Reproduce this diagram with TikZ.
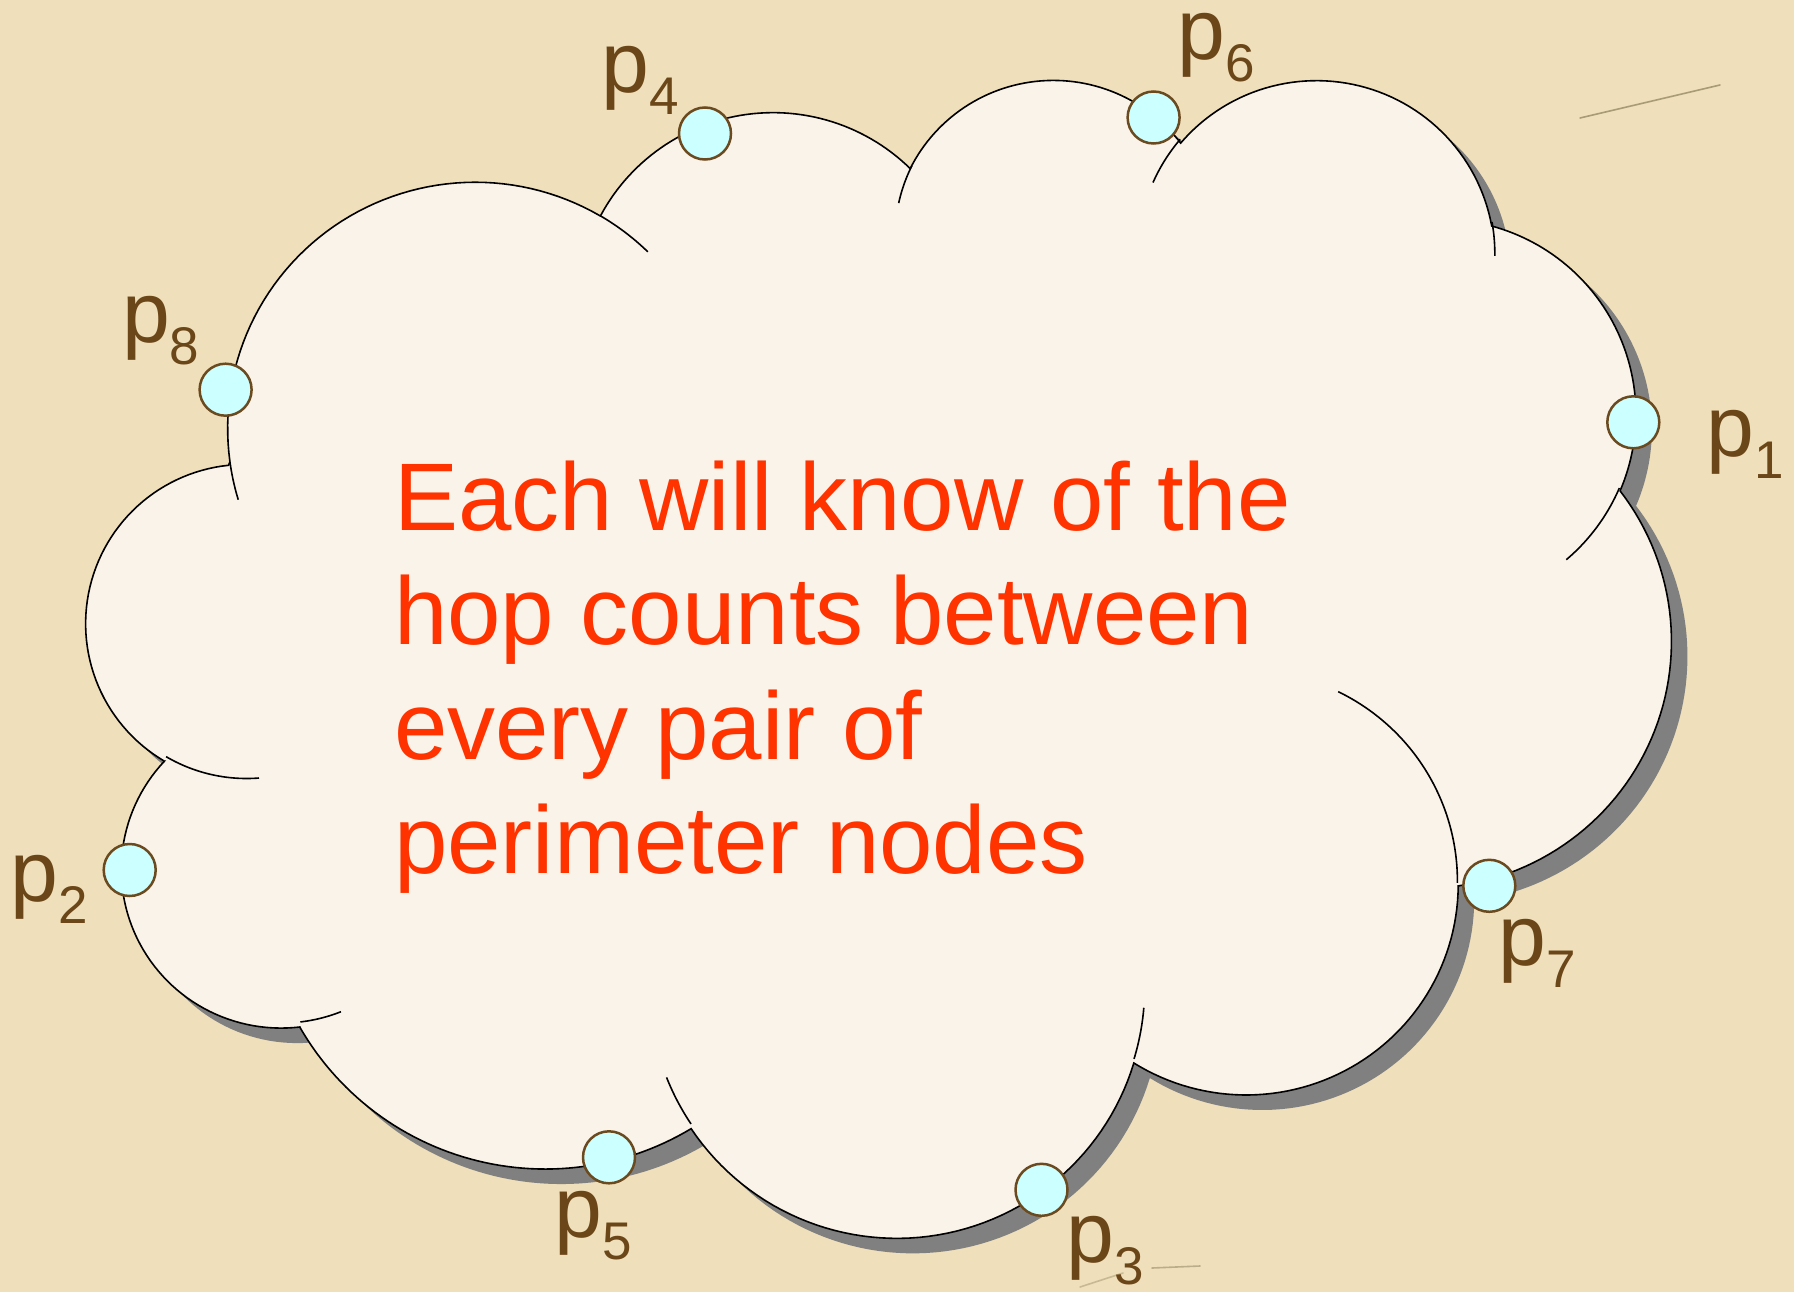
\documentclass[tikz,border=0pt]{standalone}
\usepackage{fontspec}
\setmainfont{Liberation Sans}
\definecolor{bgc}{HTML}{EFDFBA}
\definecolor{cloudc}{HTML}{FAF3E9}
\definecolor{shadowc}{HTML}{808080}
\definecolor{redc}{HTML}{FF3300}
\definecolor{labc}{HTML}{6B4619}
\definecolor{circc}{HTML}{6B4A1F}
\definecolor{cyanc}{HTML}{CCFFFF}
\definecolor{fiberc}{HTML}{6E6440}
\newcommand\cloudreset[2]{\xdef\cpx{#1}\xdef\cpy{#2}\gdef\cloudacc{}}
\newcommand\cloudarc[4]{%
  \pgfmathsetmacro\cta{atan2((#1)*sin(#3),(#2)*cos(#3))}%
  \pgfmathsetmacro\ctb{atan2((#1)*sin((#3)+(#4)),(#2)*cos((#3)+(#4)))}%
  \pgfmathsetmacro\ctb{(\ctb<\cta) ? (\ctb+360) : \ctb}%
  \pgfmathsetmacro\ccx{\cpx-(#1)*cos(\cta)}%
  \pgfmathsetmacro\ccy{\cpy-(#2)*sin(\cta)}%
  \pgfmathsetmacro\cnx{\ccx+(#1)*cos(\ctb)}%
  \pgfmathsetmacro\cny{\ccy+(#2)*sin(\ctb)}%
  \xdef\cloudacc{\unexpanded\expandafter{\cloudacc} -- plot[domain=\cta:\ctb,samples=60] ({\ccx+#1*cos(\noexpand\x)},{\ccy+#2*sin(\noexpand\x)})}%
  \xdef\cpx{\cnx}\xdef\cpy{\cny}%
}
\newcommand\psub[1]{\raisebox{-22pt}{\fontsize{53}{53}\selectfont #1}}
\begin{document}
\begin{tikzpicture}[x=1pt,y=-1pt,
  cloudline/.style={draw=black,line width=1.6pt},
  pnode/.style={circle,draw=circc,fill=cyanc,line width=2.5pt,minimum size=52pt,inner sep=0pt},
  plabel/.style={text=labc,inner sep=0pt,anchor=base west,text height=46pt,text depth=21pt,font=\fontsize{86}{86}\selectfont},
  bodytext/.style={text=redc,inner sep=0pt,anchor=base west,font=\fontsize{96}{115}\selectfont},
  fiber/.style={draw=fiberc,line width=1.6pt,opacity=0.55,line cap=round}]
\useasboundingbox (0,0) rectangle (1794,1292);
\fill[bgc] (0,0) rectangle (1794,1292);
% dark fibres of the paper texture
\coordinate (f1a) at (1580,118); \coordinate (f1b) at (1720,85);
\draw[fiber] (f1a) -- (f1b);
\coordinate (f2a) at (1152,1268); \coordinate (f2b) at (1200,1266);
\draw[fiber,opacity=0.4] (f2a) -- (f2b);
\coordinate (f3a) at (1080,1287); \coordinate (f3b) at (1123,1273);
\draw[fiber,opacity=0.3] (f3a) -- (f3b);
% main outline of the cloud
\cloudreset{390.0}{1437.0}
\cloudarc{675.3}{919.0}{-190.48748}{123.78053}
\cloudarc{533.3}{726.7}{-144.10238}{89.94523}
\cloudarc{436.5}{594.5}{-145.80792}{99.72302}
\cloudarc{485.7}{659.5}{-130.98607}{117.24173}
\cloudarc{533.3}{727.3}{-78.70888}{109.02692}
\cloudarc{677.5}{922.0}{-46.26725}{130.269}
\cloudarc{578.5}{786.7}{0.62502}{114.03333}
\cloudarc{675.2}{921.5}{22.4516}{115.17255}
\cloudarc{772.0}{1054.3}{66.24263}{75.71102}
\cloudarc{436.0}{591.8}{-274.94208}{146.73557}
\cloudarc{434.5}{594.5}{-246.8285}{152.51885}
\let\cloudmain\cloudacc
\begin{scope}[shift={(102.94,91.62)},xscale=0.36663,yscale=0.26794]
  \fill[shadowc] (390.0,1437.0) \cloudmain -- cycle;
\end{scope}
\begin{scope}[shift={(86.94,76.62)},xscale=0.36663,yscale=0.26794]
  \fill[cloudc] (390.0,1437.0) \cloudmain -- cycle;
  \draw[cloudline] (390.0,1437.0) \cloudmain -- cycle;
  \cloudreset{469.3}{2617.7}\cloudarc{434.5}{594.5}{86.742}{26.4295}
  \draw[cloudline] (469.3,2617.7) \cloudacc;
  \cloudreset{692.8}{3489.9}\cloudarc{436.0}{591.8}{73.61047}{11.44747}
  \draw[cloudline] (692.8,3489.9) \cloudacc;
  \cloudreset{1647.8}{3909.0}\cloudarc{675.2}{921.5}{137.62415}{14.0811}
  \draw[cloudline] (1647.8,3909.0) \cloudacc;
  \cloudreset{2882.7}{3475.1}\cloudarc{675.2}{921.5}{6.45327}{15.99835}
  \draw[cloudline] (2882.7,3475.1) \cloudacc;
  \cloudreset{3412.9}{2295.4}\cloudarc{578.5}{786.7}{-70.29235}{70.91737}
  \draw[cloudline] (3412.9,2295.4) \cloudacc;
  \cloudreset{4179.8}{1535.4}\cloudarc{533.3}{727.3}{30.31803}{27.7515}
  \draw[cloudline] (4179.8,1535.4) \cloudacc;
  \cloudreset{3832.4}{542.6}\cloudarc{485.7}{659.5}{-13.74433}{14.8589}
  \draw[cloudline] (3832.4,542.6) \cloudacc;
  \cloudreset{2907.8}{395.2}\cloudarc{485.7}{659.5}{-149.18145}{18.19537}
  \draw[cloudline] (2907.8,395.2) \cloudacc;
  \cloudreset{2214.1}{472.0}\cloudarc{436.5}{594.5}{-163.49427}{17.68635}
  \draw[cloudline] (2214.1,472.0) \cloudacc;
  \cloudreset{1400.0}{519.2}\cloudarc{675.3}{919.0}{-66.70695}{12.31935}
  \draw[cloudline] (1400.0,519.2) \cloudacc;
  \cloudreset{412.7}{1578.9}\cloudarc{675.3}{919.0}{157.65435}{11.85817}
  \draw[cloudline] (412.7,1578.9) \cloudacc;
\end{scope}
% text
\node[bodytext] (t1) at (394,530) {Each will know of the};
\node[bodytext] (t2) at (394,644) {hop counts between};
\node[bodytext] (t3) at (394,759) {every pair of};
\node[bodytext] (t4) at (394,873) {perimeter nodes};
% perimeter nodes
\node[pnode] (n1) at (1633.3,422.3) {};
\node[pnode] (n2) at (129.7,870) {};
\node[pnode] (n3) at (1041.5,1189.8) {};
\node[pnode] (n4) at (705,133.5) {};
\node[pnode] (n5) at (609,1157.3) {};
\node[pnode] (n6) at (1153.6,117.5) {};
\node[pnode] (n7) at (1489.3,885.8) {};
\node[pnode] (n8) at (225.6,389.7) {};
% labels
\node[plabel] (l1) at (1706,456) {p\psub{1}};
\node[plabel] (l2) at (10,901) {p\psub{2}};
\node[plabel] (l3) at (1066,1262) {p\psub{3}};
\node[plabel] (l4) at (601.4,92.5) {p\psub{4}};
\node[plabel] (l5) at (554,1237) {p\psub{5}};
\node[plabel] (l6) at (1177.7,60) {p\psub{6}};
\node[plabel] (l7) at (1498,965) {p\psub{7}};
\node[plabel] (l8) at (121.8,342) {p\psub{8}};
\end{tikzpicture}
\end{document}
